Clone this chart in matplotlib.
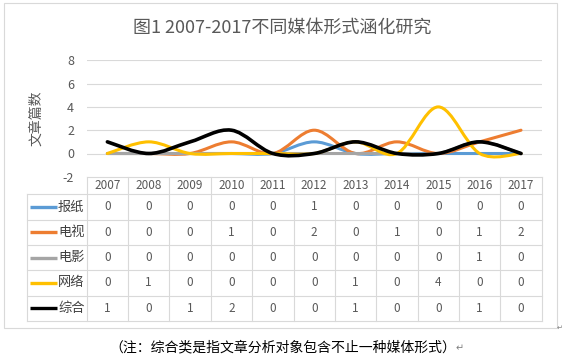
import matplotlib
matplotlib.use("Agg")
import matplotlib.pyplot as plt
from matplotlib.path import Path
from matplotlib.patches import PathPatch, Rectangle
import numpy as np

plt.rcParams['font.family'] = ['Noto Sans CJK SC', 'DejaVu Sans']

years = ['2007', '2008', '2009', '2010', '2011', '2012', '2013', '2014', '2015', '2016', '2017']
series_names = ['报纸', '电视', '电影', '网络', '综合']
baozhi = [0, 0, 0, 0, 0, 1, 0, 0, 0, 0, 0]
dianshi = [0, 0, 0, 1, 0, 2, 0, 1, 0, 1, 2]
dianying = [0, 0, 0, 0, 0, 0, 0, 0, 0, 1, 0]
wangluo = [0, 1, 0, 0, 0, 0, 1, 0, 4, 0, 0]
zonghe = [1, 0, 1, 2, 0, 0, 1, 0, 0, 1, 0]
series_values = [baozhi, dianshi, dianying, wangluo, zonghe]
colors = ['#5B9BD5', '#ED7D31', '#A5A5A5', '#FFC000', '#000000']
widths = [2.2, 2.2, 2.2, 2.2, 2.6]
yticks = [-2, 0, 2, 4, 6, 8]

W, H = 564, 361
fig = plt.figure(figsize=(W / 100, H / 100), dpi=100)

def frac(x0, y0, x1, y1):
    return [x0 / W, 1 - y1 / H, (x1 - x0) / W, (y1 - y0) / H]

# outer chart frame
fig.patches.append(Rectangle((4.3 / W, 1 - 327.7 / H), (557 - 4.3) / W, (327.7 - 2.7) / H,
                             transform=fig.transFigure, facecolor='white',
                             edgecolor='#D9D9D9', lw=0.8, zorder=-10))

PL, PR, PT, PB = 86.7, 541.7, 60.3, 176.8
ax = fig.add_axes(frac(PL, PT, PR, PB))
ax.set_zorder(2)
ax.set_xlim(-0.5, len(years) - 0.5)
ax.set_ylim(-2, 8)
ax.set_yticks(yticks)
ax.set_yticklabels([str(t) for t in yticks], color='#595959', fontsize=9)
ax.tick_params(axis='y', length=0, pad=9)
ax.set_xticks([])
for s in ax.spines.values():
    s.set_visible(False)
ax.patch.set_alpha(0)
for t in yticks[1:]:
    ax.axhline(t, color='#D9D9D9', lw=0.8, zorder=0)
ax.set_ylabel('文章篇数', color='#595959', fontsize=10, labelpad=14)


def smooth_path(xs, ys):
    pts = np.column_stack([xs, ys]).astype(float)
    n = len(pts)
    verts = [pts[0]]
    codes = [Path.MOVETO]
    for i in range(n - 1):
        p0 = pts[i - 1] if i > 0 else pts[i]
        p1 = pts[i]
        p2 = pts[i + 1]
        p3 = pts[i + 2] if i + 2 < n else pts[i + 1]
        c1 = p1 + (p2 - p0) / 6.0
        c2 = p2 - (p3 - p1) / 6.0
        verts += [c1, c2, p2]
        codes += [Path.CURVE4] * 3
    return Path(verts, codes)

xs = np.arange(len(years))
for vals, c, lw in zip(series_values, colors, widths):
    patch = PathPatch(smooth_path(xs, vals), facecolor='none', edgecolor=c, lw=lw,
                      capstyle='round', joinstyle='round', zorder=3)
    ax.add_patch(patch)

# ---- data table ----
TL, TT, TB = 26.7, 177.3, 321.0
colw = (PR - PL) / len(years)
label_w = (PL - TL) / colw
axt = fig.add_axes(frac(TL, TT, PR, TB))
axt.set_zorder(1)
axt.set_xlim(-0.5 - label_w, len(years) - 0.5)
axt.set_ylim(TB, TT)
axt.axis('off')
row_edges = [TT, 194.3] + [194.3 + (TB - 194.3) * (k + 1) / 5 for k in range(5)]
gc = '#D9D9D9'
xl = -0.5 - label_w
xr = len(years) - 0.5
# horizontal lines
axt.plot([-0.5, xr], [row_edges[0]] * 2, color=gc, lw=0.8, clip_on=False)
for y in row_edges[1:]:
    axt.plot([xl, xr], [y, y], color=gc, lw=0.8, clip_on=False)
# vertical lines
axt.plot([xl, xl], [row_edges[1], row_edges[-1]], color=gc, lw=0.8, clip_on=False)
for k in range(len(years) + 1):
    x = -0.5 + k
    axt.plot([x, x], [row_edges[0], row_edges[-1]], color=gc, lw=0.8, clip_on=False)

hy = (row_edges[0] + row_edges[1]) / 2
for i, yr in enumerate(years):
    axt.text(i, hy, yr, ha='center', va='center', fontsize=8.5, color='#595959')

for r, (name, vals, c) in enumerate(zip(series_names, series_values, colors)):
    cy = (row_edges[r + 1] + row_edges[r + 2]) / 2
    kx0 = xl + (29.5 - TL) / colw
    kx1 = xl + (57 - TL) / colw
    axt.plot([kx0, kx1], [cy, cy], color=c, lw=2.4, solid_capstyle='butt', clip_on=False)
    axt.text(xl + (58 - TL) / colw, cy, name, ha='left', va='center', fontsize=9.5,
             color='#404040')
    for i, v in enumerate(vals):
        axt.text(i, cy, str(v), ha='center', va='center', fontsize=8.5, color='#595959')

# title
fig.text(282 / W, 1 - 28 / H, '图1 2007-2017不同媒体形式涵化研究', ha='center', va='center',
         fontsize=13, color='#595959')

# footnote
fig.text(283 / W, 1 - 347 / H, '（注：综合类是指文章分析对象包含不止一种媒体形式）',
         ha='center', va='center', fontsize=10, color='#000000')
fig.text(460 / W, 1 - 348 / H, '↵', ha='center', va='center', fontsize=7,
         color='#808080', family='DejaVu Sans')
fig.text(560 / W, 1 - 328 / H, '↵', ha='center', va='center', fontsize=5,
         color='#808080', family='DejaVu Sans')

fig.savefig('out.png', dpi=100)
